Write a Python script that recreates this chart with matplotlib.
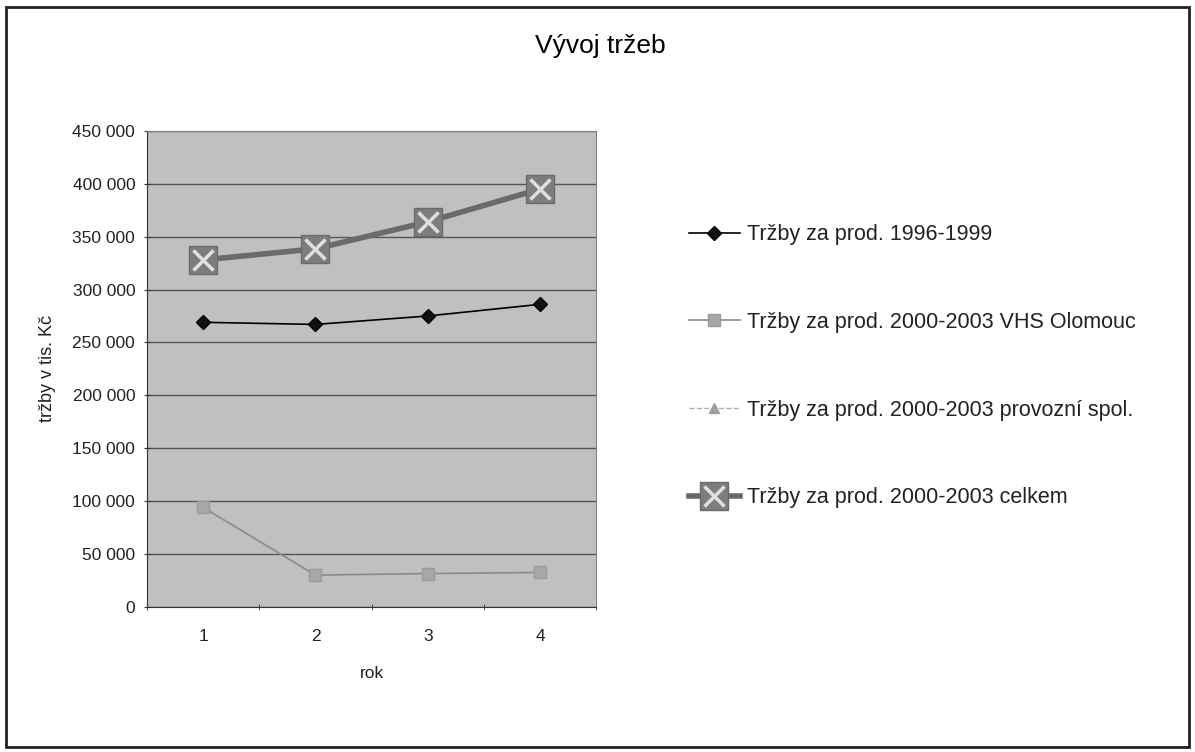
import matplotlib.pyplot as plt
from matplotlib.patches import Rectangle
from matplotlib.ticker import FuncFormatter, FixedLocator

plt.rcParams['font.family'] = ['Liberation Sans', 'DejaVu Sans']

# data (tis. Kc)
roky = [1, 2, 3, 4]
trzby_1996_1999 = [269000, 267000, 275000, 286000]
trzby_vhs = [94000, 30000, 31500, 32500]
trzby_provozni = [None, None, None, None]   # not visible in the plot
trzby_celkem = [328000, 338500, 364000, 395000]

labels = ['Tržby za prod. 1996-1999',
          'Tržby za prod. 2000-2003 VHS Olomouc',
          'Tržby za prod. 2000-2003 provozní spol.',
          'Tržby za prod. 2000-2003 celkem']

fig = plt.figure(figsize=(11.95, 7.52), dpi=100)
fig.patch.set_facecolor('white')

# outer chart border
fig.add_artist(Rectangle((0.005, 0.006), 0.99, 0.985, transform=fig.transFigure,
                         fill=False, edgecolor='#222222', linewidth=2))

ax = fig.add_axes([0.123, 0.193, 0.376, 0.633])
ax.set_facecolor('#c0c0c0')

l1, = ax.plot(roky, trzby_1996_1999, color='black', linewidth=1.2,
              marker='D', markersize=7, markerfacecolor='#111111', markeredgecolor='black')
l2, = ax.plot(roky, trzby_vhs, color='#8a8a8a', linewidth=1.2,
              marker='s', markersize=9, markerfacecolor='#a8a8a8', markeredgecolor='#9a9a9a')
vals3 = [float('nan') if v is None else v for v in trzby_provozni]
l3, = ax.plot(roky, vals3, color='#b0b0b0', linewidth=1.0, linestyle='--',
              marker='^', markersize=7, markerfacecolor='#a0a0a0', markeredgecolor='#a0a0a0')
l4, = ax.plot(roky, trzby_celkem, color='#6a6a6a', linewidth=4,
              marker='s', markersize=20, markerfacecolor='#7d7d7d', markeredgecolor='#6a6a6a')
l4x, = ax.plot(roky, trzby_celkem, linestyle='none', marker='x', markersize=15,
               markeredgewidth=2.5, color='#e0e0e0')

ax.set_xlim(0.5, 4.5)
ax.set_ylim(0, 450000)
ax.set_yticks(range(0, 450001, 50000))
ax.yaxis.set_major_formatter(FuncFormatter(lambda v, p: f'{int(v):,}'.replace(',', ' ')))
ax.set_xticks(roky)
ax.xaxis.set_minor_locator(FixedLocator([0.5, 1.5, 2.5, 3.5, 4.5]))
ax.tick_params(axis='x', which='major', length=0, pad=16, labelsize=12.5, labelcolor='#222222')
ax.tick_params(axis='x', which='minor', length=5, direction='inout', color='#333333')
ax.tick_params(axis='y', length=5, direction='inout', color='#333333', labelsize=12.5,
               labelcolor='#222222', pad=6)
ax.grid(axis='y', color='#555555', linewidth=1)
ax.set_axisbelow(True)
for s in ['top', 'right']:
    ax.spines[s].set_color('#808080')
for s in ['left', 'bottom']:
    ax.spines[s].set_color('#333333')

ax.set_ylabel('tržby v tis. Kč', fontsize=13, color='#222222', labelpad=12)
ax.set_xlabel('rok', fontsize=12.5, color='#222222', labelpad=16)

fig.suptitle('Vývoj tržeb', x=0.502, y=0.955, fontsize=19)

fig.legend([l1, l2, l3, (l4, l4x)], labels, loc='center left',
           bbox_to_anchor=(0.56, 0.513), frameon=False, fontsize=15.5,
           labelspacing=3.1, handlelength=2.4, handletextpad=0.3, labelcolor='#222222')

fig.savefig('out.png', dpi=100)
